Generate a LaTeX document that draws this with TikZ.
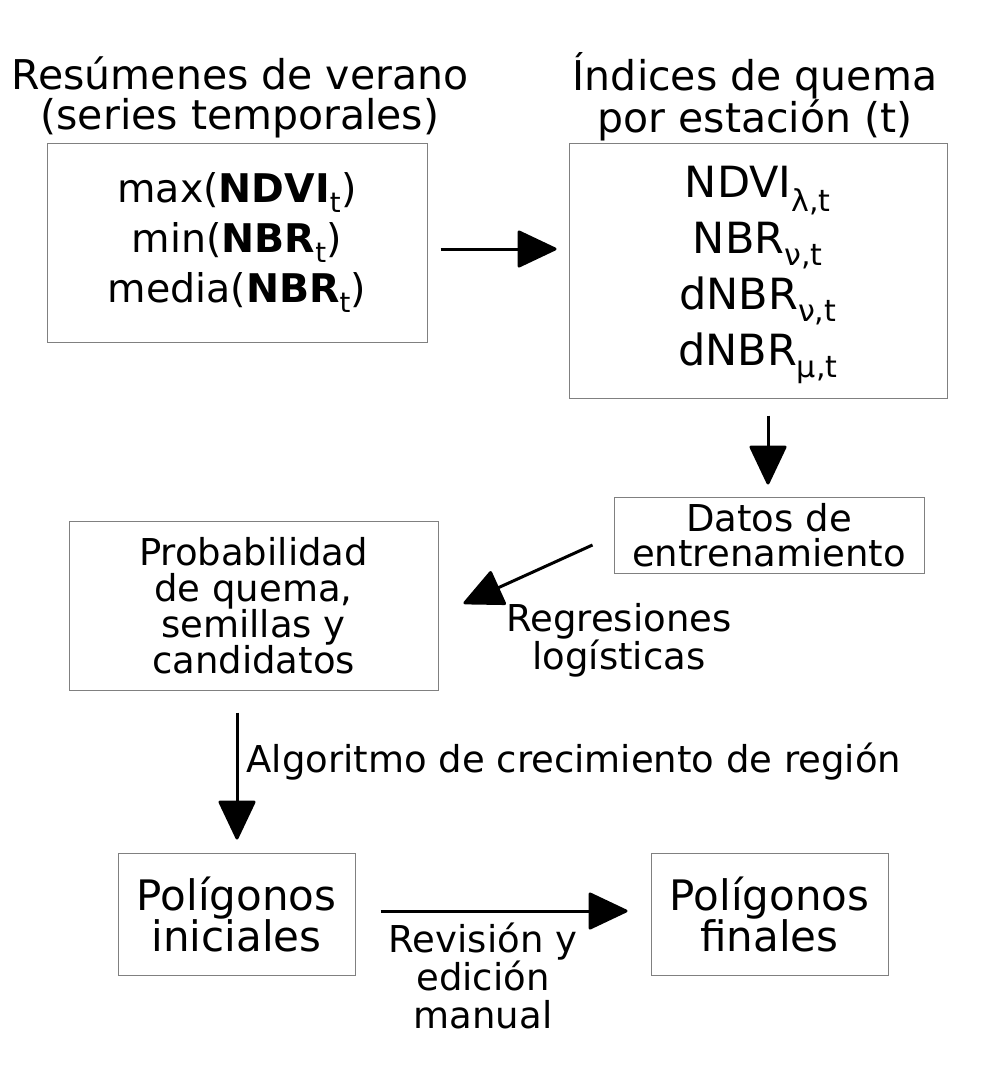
\documentclass[tikz,border=0pt]{standalone}
\usepackage{fontspec}
\setmainfont{DejaVu Sans}
\usepackage{xcolor}
\usetikzlibrary{arrows.meta}

\begin{document}
\begin{tikzpicture}[x=1pt,y=-1pt,
  box/.style={draw=gray,line width=1pt,inner sep=0pt,align=center},
  big/.style={font=\fontsize{39.5}{50}\selectfont},
  small/.style={font=\fontsize{37}{36}\selectfont},
  arr/.style={line width=3pt,line join=round,-{Triangle[length=41pt,width=38pt,round]}}]
\useasboundingbox (0,0) rectangle (1006,1065);
\node (t1) at (240,97) [align=center,font=\fontsize{41}{40}\selectfont] {Resúmenes de verano\\(series temporales)};
\node (t2) at (755,97) [align=center,font=\fontsize{41}{40}\selectfont] {Índices de quema\\por estación (t)};
\node (1) at (237,242.5) [box,big,minimum width=380pt,minimum height=199pt] {max(\textbf{NDVI}\textsubscript{t})\\min(\textbf{NBR}\textsubscript{t})\\media(\textbf{NBR}\textsubscript{t})};
\node (2) at (758,270.5) [box,minimum width=378pt,minimum height=255pt] {};
\node (2t) at (758,275) [align=center,font=\fontsize{43}{56}\selectfont] {NDVI\textsubscript{λ,t}\\NBR\textsubscript{ν,t}\\dNBR\textsubscript{ν,t}\\dNBR\textsubscript{μ,t}};
\node (3) at (769,535) [box,font=\fontsize{37}{35}\selectfont,minimum width=310pt,minimum height=76pt] {Datos de\\entrenamiento};
\node (4) at (253.5,605.5) [box,small,minimum width=369pt,minimum height=169pt] {Probabilidad\\de quema,\\semillas y\\candidatos};
\node (5) at (236.5,914) [box,font=\fontsize{42}{41}\selectfont,minimum width=237pt,minimum height=122pt] {Polígonos\\iniciales};
\node (6) at (769.5,914) [box,font=\fontsize{42}{41}\selectfont,minimum width=237pt,minimum height=122pt] {Polígonos\\finales};
\node (r) at (619,640) [align=center,font=\fontsize{37}{35}\selectfont] {Regresiones\\logísticas};
\node (g) at (243,762) [anchor=west,font=\fontsize{37}{36}\selectfont] {Algoritmo de crecimiento de región};
\node (m) at (483,976) [align=center,font=\fontsize{37}{38}\selectfont] {Revisión y\\edición\\manual};
\draw[arr,shorten <=13pt,shorten >=12pt] (1.east |- 0,249) -- (2.west |- 0,249);
\draw[arr,shorten <=17pt,shorten >=12pt] (2.south -| 768,0) -- (3.north -| 768,0);
\draw[arr] ([xshift=-21pt,yshift=-10pt]3.west) -- ([xshift=25pt,yshift=2pt]4.east);
\draw[arr,shorten <=22pt,shorten >=13pt] (4.south -| 237,0) -- (5.north -| 237,0);
\draw[arr,shorten <=25pt,shorten >=23pt] (5.east |- 0,911) -- (6.west |- 0,911);
\end{tikzpicture}
\end{document}
